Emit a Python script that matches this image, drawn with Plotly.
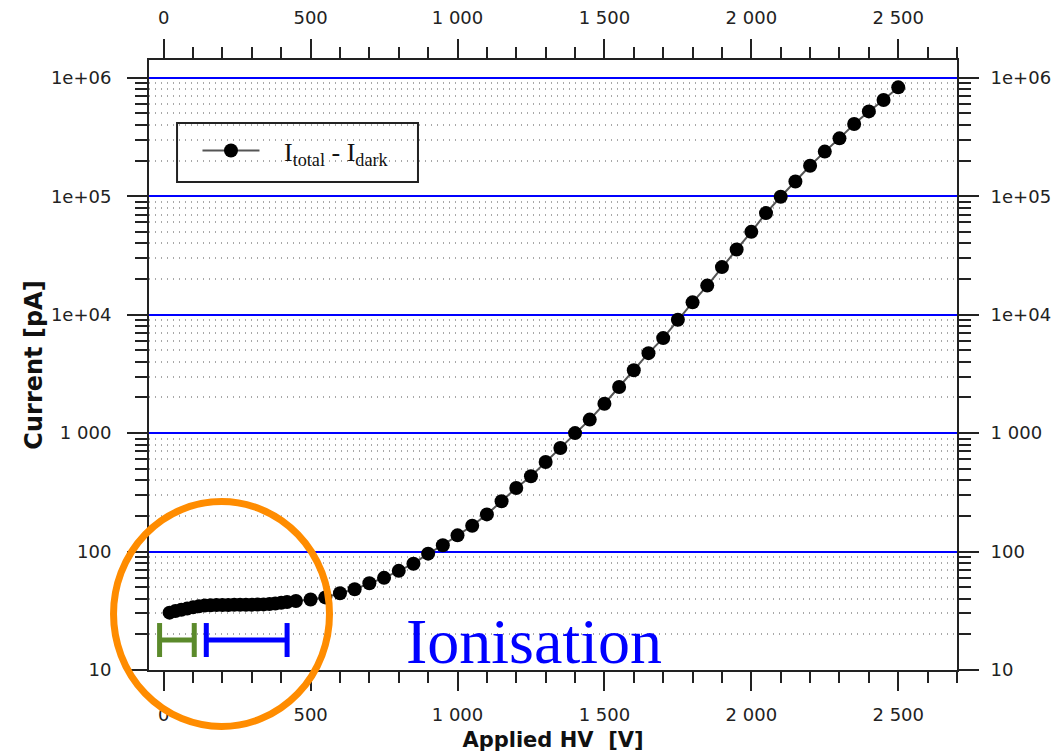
import plotly.graph_objects as go

# ---- data ----
voltage_V = [20, 40, 60, 80, 100, 120, 140, 160, 180, 200, 220, 240, 260, 280, 300,
             320, 340, 360, 380, 400, 420,
             450, 500, 550, 600, 650, 700, 750, 800, 850, 900, 950, 1000, 1050, 1100,
             1150, 1200, 1250, 1300, 1350, 1400, 1450, 1500, 1550, 1600, 1650, 1700,
             1750, 1800, 1850, 1900, 1950, 2000, 2050, 2100, 2150, 2200, 2250, 2300,
             2350, 2400, 2450, 2500]
current_pA = [30.5, 31.5, 32.3, 33.0, 33.8, 34.5, 35.0, 35.2, 35.3, 35.4, 35.4, 35.5,
              35.5, 35.6, 35.6, 35.7, 35.8, 36.0, 36.4, 36.9, 37.5,
              38.2, 39.4, 41.0, 44.4, 48.0, 54.0, 60.0, 68.7, 79.0, 96.0, 113.0, 137.0,
              165.0, 206.0, 266.0, 344.0, 432.0, 570.0, 748.0, 1000.0, 1300.0, 1770.0,
              2450.0, 3390.0, 4730.0, 6340.0, 9060.0, 12700.0, 17600.0, 25200.0,
              35500.0, 50000.0, 72000.0, 99000.0, 133000.0, 181000.0, 238000.0,
              308000.0, 407000.0, 520000.0, 650000.0, 830000.0]

series_name = "\u00a0\u00a0\u00a0I<sub>total</sub> - I<sub>dark</sub>"

x_tick_vals = [0, 500, 1000, 1500, 2000, 2500]
x_tick_text = ["0", "500", "1 000", "1 500", "2 000", "2 500"]
y_tick_vals = [10, 100, 1000, 1e4, 1e5, 1e6]
y_tick_text = ["10", "100", "1 000", "1e+04", "1e+05", "1e+06"]
y_minor_vals = [m * 10 ** d for d in range(1, 6) for m in range(2, 10)]

x_title = "Applied HV\u00a0\u00a0[V]"
y_title = "Current [pA]"
note_text = "Ionisation"

# ---- style ----
INK = "#222222"
tick_font = dict(family="DejaVu Sans", size=18, color=INK)
title_font_y = dict(family="DejaVu Sans", size=24, color="#111111", weight="bold")
title_font_x = dict(family="DejaVu Sans", size=21, color="#111111", weight="bold")

fig = go.Figure()
fig.add_trace(go.Scatter(
    x=voltage_V, y=current_pA, name=series_name, mode="lines+markers",
    line=dict(color="#555555", width=2),
    marker=dict(color="black", size=14, line=dict(width=0)),
    showlegend=True,
))
# invisible companion trace to carry the top/right mirror axes
fig.add_trace(go.Scatter(
    x=voltage_V, y=current_pA, xaxis="x2", yaxis="y2", mode="markers",
    marker=dict(opacity=0), showlegend=False, hoverinfo="skip",
))

xcommon = dict(
    range=[-50, 2700], tickmode="array", tickvals=x_tick_vals, ticktext=x_tick_text,
    ticks="outside", ticklen=19, tickwidth=2, tickcolor=INK,
    showline=True, linecolor=INK, linewidth=2, showgrid=False, zeroline=False,
    tickfont=tick_font, ticklabelstandoff=8, automargin=False,
    minor=dict(tickmode="linear", tick0=0, dtick=100, ticks="outside", ticklen=11,
               tickwidth=2, tickcolor=INK, showgrid=False),
)
ycommon = dict(
    type="log", range=[1, 6.15], tickmode="array", tickvals=y_tick_vals,
    ticktext=y_tick_text, ticks="outside", ticklen=20, tickwidth=2, tickcolor=INK,
    showline=True, linecolor=INK, linewidth=2, zeroline=False,
    tickfont=tick_font, automargin=False,
)

fig.update_layout(
    width=1059, height=755, autosize=False,
    margin=dict(l=149, r=102, t=60, b=85),
    paper_bgcolor="white", plot_bgcolor="white",
    xaxis=dict(**xcommon, title=dict(text=x_title, font=title_font_x, standoff=9)),
    xaxis2=dict(**xcommon, overlaying="x", side="top", anchor="y", matches="x"),
    yaxis=dict(**ycommon, ticklabelstandoff=12,
               showgrid=True, gridcolor="#0000ff", gridwidth=2,
               minor=dict(tickmode="array", tickvals=y_minor_vals, ticks="outside",
                          ticklen=12, tickwidth=2, tickcolor=INK, showgrid=True,
                          gridcolor="#a8a8a8", gridwidth=1.5, griddash="1px,5px"),
               title=dict(text=y_title, font=title_font_y, standoff=1)),
    yaxis2=dict(**ycommon, ticklabelstandoff=8, overlaying="y", side="right",
                anchor="x", matches="y", showgrid=False,
                minor=dict(tickmode="array", tickvals=y_minor_vals, ticks="outside",
                           ticklen=12, tickwidth=2, tickcolor=INK, showgrid=False)),
    legend=dict(x=0.06, y=0.89, xanchor="left", yanchor="top",
                bgcolor="rgba(0,0,0,0)", borderwidth=0, itemwidth=57,
                font=dict(family="Liberation Serif", size=26, color="#111111")),
    showlegend=True,
)

# legend frame
fig.add_shape(type="rect", xref="paper", yref="paper",
              x0=0.0347, x1=0.3329, y0=0.800, y1=0.8967,
              line=dict(color=INK, width=2), fillcolor="white", layer="below")

# orange highlight circle
fig.add_shape(type="circle", xref="paper", yref="paper",
              x0=-0.0439, x1=0.2234, y0=-0.0926, y1=0.2762,
              line=dict(color="#ff8c00", width=7))

# range brackets (green and blue)
for (xa, xb, col) in [(-14, 104, "#5b8a2b"), (145, 420, "#0000ff")]:
    fig.add_shape(type="line", xref="x", yref="paper", x0=xa, x1=xb, y0=0.0492, y1=0.0492,
                  line=dict(color=col, width=5))
    for xc in (xa, xb):
        fig.add_shape(type="line", xref="x", yref="paper", x0=xc, x1=xc, y0=0.0213, y1=0.077,
                      line=dict(color=col, width=5))

fig.add_annotation(text=note_text, xref="paper", yref="paper", x=0.4765, y=0.047,
                   xanchor="center", yanchor="middle", showarrow=False,
                   font=dict(family="Liberation Serif", size=64, color="#0000ff"))

fig.write_html("out.html")
